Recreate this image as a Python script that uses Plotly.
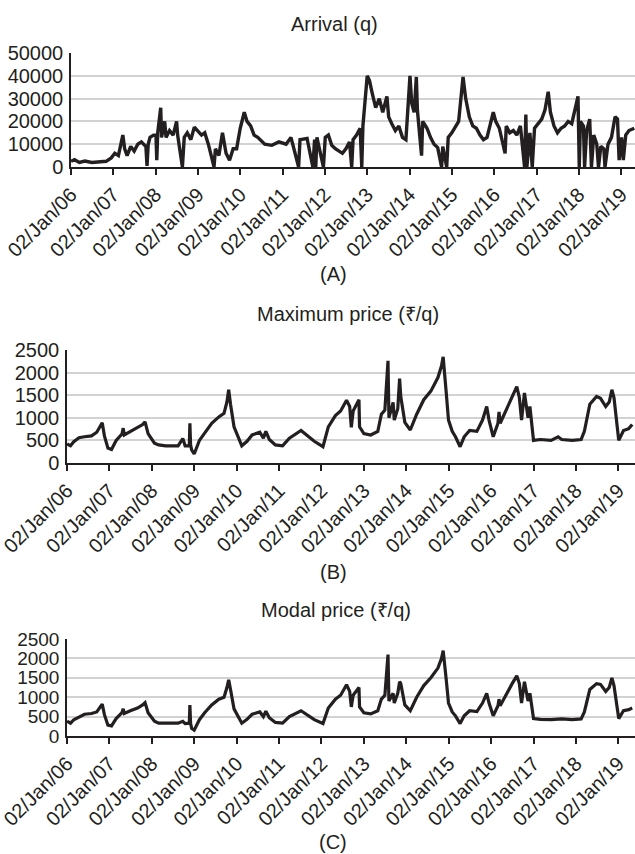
import plotly.graph_objects as go

# ---------------- data ----------------
arrival_points = [
    ("2006-01-02", 2500), ("2006-02-01", 3200), ("2006-03-15", 2000), ("2006-05-01", 2600),
    ("2006-07-01", 2000), ("2006-09-01", 2300), ("2006-11-01", 2500), ("2006-12-15", 4000),
    ("2007-01-15", 6000), ("2007-02-15", 5000), ("2007-03-25", 14000), ("2007-04-10", 8000),
    ("2007-05-01", 5000), ("2007-06-01", 9000), ("2007-07-01", 7000), ("2007-08-01", 10000),
    ("2007-09-01", 11000), ("2007-10-10", 9000), ("2007-10-20", 500), ("2007-10-30", 10000),
    ("2007-11-15", 13000), ("2007-12-15", 14000),
    ("2008-01-05", 14000), ("2008-01-12", 3000), ("2008-01-20", 15000), ("2008-02-15", 26000),
    ("2008-02-22", 13000), ("2008-03-20", 20000), ("2008-04-01", 13000), ("2008-05-01", 16000),
    ("2008-06-01", 14000), ("2008-07-01", 20000), ("2008-07-10", 14000), ("2008-08-20", 0),
    ("2008-09-05", 13000), ("2008-10-01", 15000), ("2008-11-01", 12000), ("2008-12-01", 17500),
    ("2009-01-01", 16000), ("2009-02-01", 14000), ("2009-03-01", 15000), ("2009-04-01", 10000),
    ("2009-05-20", 0), ("2009-06-01", 8000), ("2009-07-01", 5000), ("2009-08-01", 15000),
    ("2009-09-01", 6000), ("2009-10-01", 3000), ("2009-11-01", 8000), ("2009-12-01", 8000),
    ("2010-01-01", 17000), ("2010-02-05", 24000), ("2010-03-01", 20000), ("2010-04-01", 18000),
    ("2010-05-01", 14000), ("2010-06-01", 13000), ("2010-08-01", 10000), ("2010-10-01", 9500),
    ("2010-12-01", 11000),
    ("2011-02-01", 10000), ("2011-03-15", 13000), ("2011-05-20", 0), ("2011-06-01", 12000),
    ("2011-08-01", 12500), ("2011-09-20", 0), ("2011-10-05", 12000), ("2011-10-15", 0),
    ("2011-10-25", 13000), ("2011-12-20", 0),
    ("2012-01-05", 13000), ("2012-02-01", 14000), ("2012-03-01", 9500), ("2012-04-01", 8000),
    ("2012-06-01", 6000), ("2012-07-01", 8000), ("2012-08-01", 11000), ("2012-08-20", 0),
    ("2012-09-01", 12000), ("2012-10-01", 14000), ("2012-11-01", 17000), ("2012-11-15", 0),
    ("2012-11-25", 18000),
    ("2013-01-01", 40000), ("2013-01-20", 38000), ("2013-02-15", 32000), ("2013-03-15", 26000),
    ("2013-04-15", 30000), ("2013-05-15", 24000), ("2013-06-20", 31000), ("2013-07-05", 22000),
    ("2013-08-01", 19000), ("2013-09-01", 16000), ("2013-10-01", 18000), ("2013-11-01", 13000),
    ("2013-12-01", 12000),
    ("2014-01-05", 40000), ("2014-01-20", 28000), ("2014-02-10", 24000), ("2014-03-01", 39500),
    ("2014-03-10", 25000), ("2014-04-15", 5000), ("2014-04-25", 20000), ("2014-06-01", 17000),
    ("2014-07-01", 13000), ("2014-08-01", 10000), ("2014-09-01", 8500), ("2014-10-05", 0),
    ("2014-10-15", 9000), ("2014-11-18", 0), ("2014-12-01", 13000),
    ("2015-01-01", 15000), ("2015-02-01", 17500), ("2015-03-01", 20000), ("2015-04-08", 39500),
    ("2015-05-01", 30000), ("2015-06-01", 22000), ("2015-07-01", 18000), ("2015-08-01", 17000),
    ("2015-09-01", 14000), ("2015-10-01", 12000), ("2015-11-01", 13000), ("2015-12-25", 24000),
    ("2016-01-15", 20000), ("2016-02-15", 17000), ("2016-04-05", 6000), ("2016-04-15", 18000),
    ("2016-05-15", 15000), ("2016-06-15", 16000), ("2016-07-15", 14000), ("2016-08-15", 18000),
    ("2016-09-20", 0), ("2016-10-01", 23000), ("2016-10-10", 0), ("2016-11-05", 15000),
    ("2016-11-25", 0), ("2016-12-15", 17000),
    ("2017-01-15", 19000), ("2017-02-15", 21000), ("2017-03-15", 25000), ("2017-04-12", 33000),
    ("2017-05-01", 24000), ("2017-06-01", 18000), ("2017-07-01", 15000), ("2017-08-01", 17000),
    ("2017-09-01", 18000), ("2017-10-01", 20000), ("2017-11-01", 19000), ("2017-12-25", 31000),
    ("2018-01-05", 0), ("2018-01-15", 20000), ("2018-02-10", 18000), ("2018-02-20", 0),
    ("2018-03-10", 16000), ("2018-04-05", 21000), ("2018-04-20", 0), ("2018-05-10", 14000),
    ("2018-06-05", 10000), ("2018-06-20", 0), ("2018-07-10", 9000), ("2018-08-05", 8000),
    ("2018-08-15", 0), ("2018-09-10", 10000), ("2018-10-10", 13000), ("2018-11-10", 22000),
    ("2018-12-01", 21000), ("2018-12-15", 3000),
    ("2019-01-05", 13000), ("2019-01-20", 3000), ("2019-02-10", 14000), ("2019-03-10", 16000),
    ("2019-04-25", 17000),
]

max_price_points = [
    ("2006-01-02", 420), ("2006-02-01", 380), ("2006-03-01", 470), ("2006-04-15", 560),
    ("2006-06-01", 580), ("2006-08-01", 600), ("2006-09-15", 680), ("2006-11-01", 890),
    ("2006-11-20", 600), ("2006-12-20", 330), ("2007-01-20", 300), ("2007-03-01", 500),
    ("2007-04-20", 640), ("2007-05-01", 770), ("2007-05-10", 620), ("2007-07-01", 700),
    ("2007-09-01", 780), ("2007-10-15", 850), ("2007-11-05", 910), ("2007-12-01", 650),
    ("2008-01-25", 440), ("2008-03-01", 400), ("2008-05-01", 380), ("2008-07-01", 390),
    ("2008-08-15", 380), ("2008-09-25", 540), ("2008-10-15", 380), ("2008-11-20", 380),
    ("2008-11-25", 880), ("2008-12-01", 400), ("2008-12-10", 290), ("2009-01-01", 200),
    ("2009-02-15", 500), ("2009-04-01", 660), ("2009-06-01", 880), ("2009-08-01", 1020),
    ("2009-09-15", 1100), ("2009-10-10", 1350), ("2009-10-25", 1620), ("2009-11-10", 1300),
    ("2009-12-10", 800), ("2010-02-15", 380), ("2010-04-01", 480), ("2010-05-15", 620),
    ("2010-07-20", 680), ("2010-08-20", 550), ("2010-09-10", 700), ("2010-10-10", 520),
    ("2010-12-01", 400), ("2011-02-01", 380), ("2011-04-01", 550), ("2011-07-10", 720),
    ("2011-09-01", 600), ("2011-11-01", 480), ("2012-01-15", 360), ("2012-03-01", 800),
    ("2012-05-01", 1050), ("2012-06-15", 1150), ("2012-08-05", 1390), ("2012-09-01", 1250),
    ("2012-09-15", 790), ("2012-10-01", 1150), ("2012-11-20", 1400), ("2012-11-25", 800),
    ("2013-01-01", 650), ("2013-03-01", 620), ("2013-05-01", 700), ("2013-06-01", 1080),
    ("2013-07-01", 1170), ("2013-07-28", 2260), ("2013-08-05", 1000), ("2013-09-10", 1340),
    ("2013-09-20", 950), ("2013-10-20", 1200), ("2013-11-05", 1870), ("2013-11-15", 1470),
    ("2013-12-20", 900), ("2014-02-05", 730), ("2014-04-01", 1080), ("2014-06-01", 1400),
    ("2014-08-01", 1590), ("2014-10-01", 1890), ("2014-11-01", 2150), ("2014-11-15", 2350),
    ("2014-12-10", 1600), ("2014-12-31", 950), ("2015-02-01", 700), ("2015-03-01", 580),
    ("2015-04-10", 360), ("2015-05-15", 580), ("2015-07-01", 720), ("2015-09-01", 700),
    ("2015-10-20", 950), ("2015-11-25", 1250), ("2015-12-15", 950), ("2016-01-20", 580),
    ("2016-03-01", 880), ("2016-03-10", 1130), ("2016-03-20", 880), ("2016-05-15", 1200),
    ("2016-07-01", 1500), ("2016-08-10", 1690), ("2016-09-01", 1450), ("2016-09-20", 950),
    ("2016-10-15", 1550), ("2016-11-15", 1000), ("2016-12-01", 1250), ("2017-01-01", 500),
    ("2017-03-01", 520), ("2017-06-01", 500), ("2017-08-01", 580), ("2017-09-01", 520),
    ("2017-12-01", 500), ("2018-02-15", 520), ("2018-03-15", 700), ("2018-05-01", 1300),
    ("2018-06-28", 1470), ("2018-08-01", 1430), ("2018-09-15", 1250), ("2018-10-15", 1350),
    ("2018-11-07", 1620), ("2018-11-25", 1450), ("2019-01-05", 500), ("2019-02-15", 720),
    ("2019-04-01", 760), ("2019-05-01", 850),
]

modal_price_points = [
    ("2006-01-02", 380), ("2006-02-01", 330), ("2006-03-01", 420), ("2006-04-15", 500),
    ("2006-06-01", 560), ("2006-08-01", 580), ("2006-09-15", 620), ("2006-11-01", 820),
    ("2006-11-20", 550), ("2006-12-20", 280), ("2007-01-20", 260), ("2007-03-01", 450),
    ("2007-04-20", 600), ("2007-05-01", 700), ("2007-05-10", 580), ("2007-07-01", 650),
    ("2007-09-01", 720), ("2007-10-15", 800), ("2007-11-05", 860), ("2007-12-01", 600),
    ("2008-01-25", 380), ("2008-03-01", 330), ("2008-05-01", 330), ("2008-07-01", 320),
    ("2008-08-15", 330), ("2008-09-25", 380), ("2008-10-15", 320), ("2008-11-20", 330),
    ("2008-11-25", 800), ("2008-12-01", 330), ("2008-12-10", 200), ("2009-01-01", 150),
    ("2009-02-15", 420), ("2009-04-01", 600), ("2009-06-01", 800), ("2009-08-01", 950),
    ("2009-09-15", 1000), ("2009-10-10", 1250), ("2009-10-25", 1450), ("2009-11-10", 1200),
    ("2009-12-10", 700), ("2010-02-15", 330), ("2010-04-01", 430), ("2010-05-15", 560),
    ("2010-07-20", 620), ("2010-08-20", 500), ("2010-09-10", 640), ("2010-10-10", 470),
    ("2010-12-01", 350), ("2011-02-01", 330), ("2011-04-01", 500), ("2011-07-10", 650),
    ("2011-09-01", 540), ("2011-11-01", 420), ("2012-01-15", 320), ("2012-03-01", 720),
    ("2012-05-01", 950), ("2012-06-15", 1050), ("2012-08-05", 1320), ("2012-09-01", 1150),
    ("2012-09-15", 750), ("2012-10-01", 1050), ("2012-11-20", 1250), ("2012-11-25", 750),
    ("2013-01-01", 600), ("2013-03-01", 570), ("2013-05-01", 650), ("2013-06-01", 950),
    ("2013-07-01", 1050), ("2013-07-28", 2100), ("2013-08-05", 900), ("2013-09-10", 1100),
    ("2013-09-20", 850), ("2013-10-20", 1100), ("2013-11-05", 1400), ("2013-11-15", 1350),
    ("2013-12-20", 800), ("2014-02-05", 650), ("2014-04-01", 1000), ("2014-06-01", 1300),
    ("2014-08-01", 1500), ("2014-10-01", 1750), ("2014-11-01", 2000), ("2014-11-15", 2200),
    ("2014-12-10", 1500), ("2014-12-31", 850), ("2015-02-01", 620), ("2015-03-01", 520),
    ("2015-04-10", 320), ("2015-05-15", 520), ("2015-07-01", 650), ("2015-09-01", 630),
    ("2015-10-20", 850), ("2015-11-25", 1100), ("2015-12-15", 850), ("2016-01-20", 520),
    ("2016-03-01", 780), ("2016-03-10", 950), ("2016-03-20", 780), ("2016-05-15", 1100),
    ("2016-07-01", 1350), ("2016-08-10", 1550), ("2016-09-01", 1350), ("2016-09-20", 850),
    ("2016-10-15", 1400), ("2016-11-15", 900), ("2016-12-01", 1100), ("2017-01-01", 450),
    ("2017-03-01", 430), ("2017-06-01", 420), ("2017-09-01", 440), ("2017-12-01", 420),
    ("2018-02-15", 440), ("2018-03-15", 620), ("2018-05-01", 1200), ("2018-06-28", 1350),
    ("2018-08-01", 1330), ("2018-09-15", 1150), ("2018-10-15", 1250), ("2018-11-07", 1500),
    ("2018-11-25", 1300), ("2019-01-05", 450), ("2019-02-15", 650), ("2019-04-01", 680),
    ("2019-05-01", 720),
]

panel_titles = ["Arrival (q)", "Maximum price (\u20b9/q)", "Modal price (\u20b9/q)"]
panel_labels = ["(A)", "(B)", "(C)"]
x_tick_dates = ["%d-01-02" % y for y in range(2006, 2020)]
arrival_ticks = [0, 10000, 20000, 30000, 40000, 50000]
price_ticks = [0, 500, 1000, 1500, 2000, 2500]

# ---------------- figure ----------------
W, H = 635, 854
FONT = "Liberation Sans, Arial, Helvetica, sans-serif"
INK = "#231f20"

def py(p):
    return 1 - p / H

panels = [
    dict(points=arrival_points, x0=71, top=53, bottom=167, yt=arrival_ticks, xend="2019-05-01",
         title_y=24, title_x=334, lab_y=274, width=3.4, yfs=20),
    dict(points=max_price_points, x0=67, top=350, bottom=463, yt=price_ticks, xend="2019-05-25",
         title_y=314, title_x=348, lab_y=572, width=3.2, yfs=20),
    dict(points=modal_price_points, x0=67, top=639, bottom=736, yt=price_ticks, xend="2019-05-25",
         title_y=610, title_x=336, lab_y=842, width=3.2, yfs=19),
]

fig = go.Figure()
layout = dict(
    template="none",
    width=W, height=H, margin=dict(l=0, r=0, t=0, b=0, autoexpand=False),
    paper_bgcolor="white", plot_bgcolor="white", showlegend=False,
    font=dict(family=FONT, color=INK),
)
annotations = []
for i, p in enumerate(panels, start=1):
    xs = [d for d, v in p["points"]]
    ys = [v for d, v in p["points"]]
    sfx = "" if i == 1 else str(i)
    fig.add_trace(go.Scatter(x=xs, y=ys, mode="lines", xaxis="x" + sfx, yaxis="y" + sfx,
                             line=dict(color=INK, width=p["width"]), hoverinfo="skip"))
    layout["xaxis" + sfx] = dict(
        domain=[p["x0"] / W, 1], anchor="y" + sfx, type="date", automargin=False,
        range=["2006-01-01 18:00", p["xend"]],
        tickmode="array", tickvals=x_tick_dates, tickformat="%d/%b/%y",
        tickangle=-45, tickfont=dict(size=20, family=FONT, color=INK),
        ticklabeloverflow="allow",
        showgrid=False, zeroline=False, showline=True, linecolor=INK, linewidth=2,
        ticks="outside", ticklen=6, tickwidth=1.5, tickcolor=INK,
    )
    layout["yaxis" + sfx] = dict(
        domain=[py(p["bottom"]), py(p["top"])], anchor="x" + sfx, automargin=False,
        range=[0, p["yt"][-1]], tickmode="array", tickvals=p["yt"],
        ticktext=[str(t) for t in p["yt"]],
        tickfont=dict(size=p["yfs"], family=FONT, color=INK),
        showgrid=True, gridcolor="#d2d2d2", gridwidth=1.5, zeroline=False,
        showline=True, linecolor=INK, linewidth=1.5, ticks="", ticklabelstandoff=2,
    )
    annotations.append(dict(text=panel_titles[i - 1], x=p["title_x"] / W, y=py(p["title_y"]),
                            xref="paper", yref="paper", showarrow=False,
                            font=dict(size=20, family=FONT, color=INK),
                            xanchor="center", yanchor="middle"))
    annotations.append(dict(text=panel_labels[i - 1], x=333 / W, y=py(p["lab_y"]),
                            xref="paper", yref="paper", showarrow=False,
                            font=dict(size=20, family=FONT, color=INK),
                            xanchor="center", yanchor="middle"))
layout["annotations"] = annotations
fig.update_layout(**layout)
fig.write_html("out.html", config={"displayModeBar": False},
               post_script="document.body.style.margin='0';document.body.style.overflow='hidden';")
